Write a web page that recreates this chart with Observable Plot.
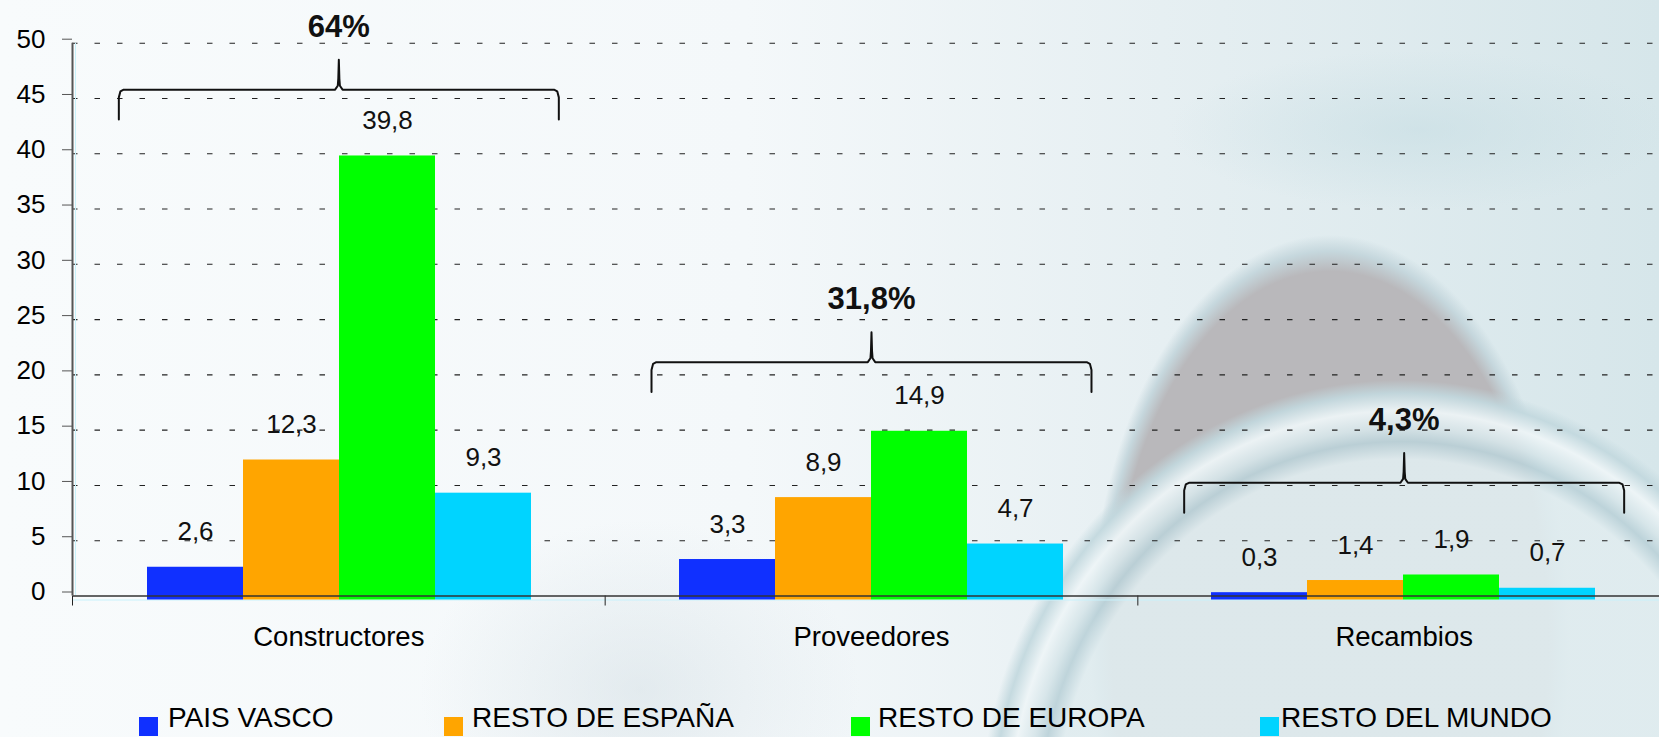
<!DOCTYPE html>
<html>
<head>
<meta charset="utf-8">
<script src="https://cdn.jsdelivr.net/npm/d3@7"></script>
<script src="https://cdn.jsdelivr.net/npm/@observablehq/plot@0.6"></script>
<style>
  html, body { margin: 0; padding: 0; overflow: hidden; }
  #wrap {
    position: relative; width: 1659px; height: 737px; overflow: hidden;
    font-family: "Liberation Sans", Arial, sans-serif;
    background:
      radial-gradient(420px 440px at 1400px 820px, rgba(224,236,239,0.92) 0%, rgba(224,236,239,0.92) 82%, rgba(186,209,216,0.9) 86%, rgba(214,229,233,0.92) 89%, rgba(238,245,247,0.95) 93%, rgba(194,216,222,0.92) 97%, rgba(210,225,229,0) 100%),
      radial-gradient(240px 405px at 1330px 640px, rgba(185,184,187,1) 0%, rgba(185,184,187,1) 91%, rgba(196,214,220,0.95) 96%, rgba(210,225,229,0) 100%),
      radial-gradient(ellipse 250px 80px at 1420px 130px, rgba(196,220,226,0.55) 0%, rgba(220,234,238,0) 100%),
      radial-gradient(ellipse 220px 170px at 640px 690px, rgba(205,218,224,0.45) 0%, rgba(225,234,238,0) 100%),
      linear-gradient(90deg, #f8fbfc 0%, #f4f8fa 45%, #e6eff2 70%, #d6e6ea 100%);
  }
  .layer { position: absolute; left: 0; top: 0; }
  #legend { position: absolute; left: 0; top: 700px; width: 1659px; height: 37px; }
  .item { position: absolute; top: 0; height: 37px; font-size: 28px; color: #000; white-space: nowrap; }
  .item .sw { position: absolute; top: 17px; left: 0; width: 19px; height: 19px; }
  .item .lb { position: absolute; top: 4px; line-height: 28px; }
</style>
</head>
<body>
<div id="wrap"></div>
<script>
// ---- data ----
const categories = ["Constructores", "Proveedores", "Recambios"];
const series = ["PAIS VASCO", "RESTO DE ESPAÑA", "RESTO DE EUROPA", "RESTO DEL MUNDO"];
const paisVasco   = [2.6, 3.3, 0.3];
const restoEspana = [12.3, 8.9, 1.4];
const restoEuropa = [39.8, 14.9, 1.9];
const restoMundo  = [9.3, 4.7, 0.7];
const shares = ["64%", "31,8%", "4,3%"];
const yTicks = [0, 5, 10, 15, 20, 25, 30, 35, 40, 45, 50];
// annotation: level (in value units) of each group's brace
const bracketLevel = [45.8, 21.15, 10.24];

// ---- styling ----
const colors = ["#1030ff", "#ffa500", "#00ff00", "#00d4ff"];
const W = 1670, H = 700, ML = 72, MR = 0, MT = 42.7, MB = 104.5;
const FONT = "Liberation Sans, Arial, sans-serif";

const seriesValues = [paisVasco, restoEspana, restoEuropa, restoMundo];
const table = categories.flatMap((c, ci) => series.map((s, si) => ({category: c, series: s, value: seriesValues[si][ci]})));
const fmt = v => v.toFixed(1).replace(".", ",");

// brace geometry (in category units / value units)
const braceHalf = 0.413, braceDrop = 2.7, bracePeak = 2.7;
const braceParts = categories.flatMap((c, i) => {
  const a = i + 0.5 - braceHalf, b = i + 0.5 + braceHalf, m = i + 0.5, L = bracketLevel[i];
  return [
    [a, L - braceDrop], [a, L - 0.7], [a + 0.003, L - 0.15], [a + 0.009, L],
    [m - 0.007, L], [m - 0.002, L + 0.35], [m - 0.001, L + 1], [m, L + bracePeak],
    [m + 0.001, L + 1], [m + 0.002, L + 0.35], [m + 0.007, L],
    [b - 0.009, L], [b - 0.003, L - 0.15], [b, L - 0.7], [b, L - braceDrop]
  ].map(([x, y]) => ({x, y, c}));
});

const common = {
  width: W, height: H, marginLeft: ML, marginRight: MR, marginTop: MT, marginBottom: MB,
  style: {background: "transparent", maxWidth: "none", fontFamily: FONT, overflow: "visible"}
};

// background layer: axes, grid, braces
const back = Plot.plot({
  ...common,
  x: {domain: [0, categories.length], axis: null},
  y: {domain: [0, 50], axis: null},
  marks: [
    Plot.ruleY(yTicks.filter(d => d > 0), {stroke: "#222", strokeWidth: 1.1, strokeDasharray: "5.5,17"}),
    Plot.ruleX([0], {stroke: "#c8f2fb", strokeWidth: 1, dx: 3}),
    Plot.ruleY([0], {stroke: "#c8f2fb", strokeWidth: 1, dy: 4}),
    Plot.axisY({ticks: yTicks, tickSize: 10, tickPadding: 17, tickFormat: d => String(d), label: null, fontSize: 26, fill: "#000", stroke: "#555", dy: -4}),
    Plot.ruleX([0], {stroke: "#555", strokeWidth: 2}),
    Plot.axisX({ticks: d3.range(categories.length + 1), tickSize: 10, tickFormat: () => "", label: null, stroke: "#222"}),
    Plot.axisX({ticks: categories.map((_, i) => i + 0.5), tickSize: 0, tickPadding: 30, tickFormat: v => categories[Math.floor(v)], label: null, fontSize: 27.5, fill: "#000"}),
    Plot.line(braceParts, {x: "x", y: "y", z: "c", stroke: "#111", strokeWidth: 2}),
    Plot.text(shares, {x: (d, i) => i + 0.5, y: (d, i) => bracketLevel[i] + bracePeak, text: d => d, dy: -23, lineAnchor: "bottom", fontSize: 31, fontWeight: "bold", fill: "#111"})
  ]
});
back.classList.add("layer");

// foreground layer: grouped bars
const front = Plot.plot({
  ...common,
  fx: {domain: categories, padding: 0, axis: null, label: null},
  x: {domain: series, paddingInner: 0, paddingOuter: 0.766, axis: null, label: null},
  y: {domain: [0, 50], axis: null, label: null},
  color: {domain: series, range: colors},
  marks: [
    Plot.barY(table, {fx: "category", x: "series", y: "value", fill: "series", insetBottom: -4}),
    Plot.ruleY([0], {stroke: "#333", strokeWidth: 1.6}),
    Plot.text(table, {fx: "category", x: "series", y: "value", text: d => fmt(d.value), dy: -27, lineAnchor: "bottom", fontSize: 26, fill: "#111"})
  ]
});
front.classList.add("layer");

const wrap = document.getElementById("wrap");
wrap.appendChild(back);
wrap.appendChild(front);

// legend
const legendLeft = [139, 444, 851, 1260];
const legendGap = [29, 28, 27, 21];
const legend = document.createElement("div");
legend.id = "legend";
series.forEach((s, i) => {
  const item = document.createElement("div");
  item.className = "item";
  item.style.left = legendLeft[i] + "px";
  const sw = document.createElement("span");
  sw.className = "sw";
  sw.style.background = colors[i];
  const lb = document.createElement("span");
  lb.className = "lb";
  lb.style.left = legendGap[i] + "px";
  lb.textContent = s;
  item.appendChild(sw);
  item.appendChild(lb);
  legend.appendChild(item);
});
wrap.appendChild(legend);
</script>
</body>
</html>
